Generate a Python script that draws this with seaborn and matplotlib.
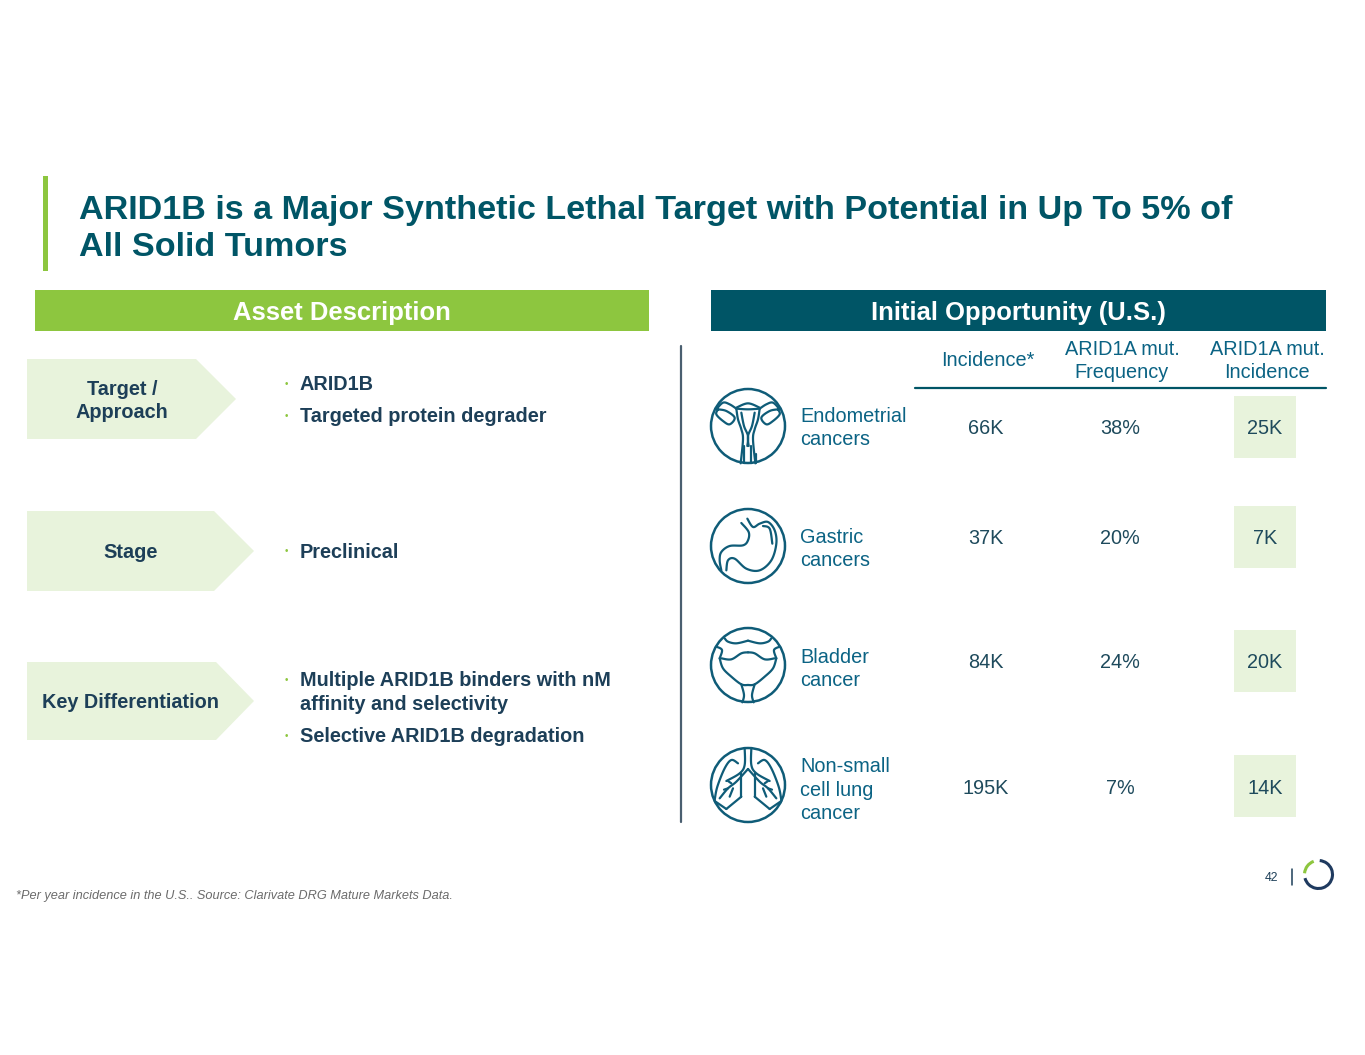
import numpy as np
import pandas as pd
import matplotlib
matplotlib.use('Agg')
import matplotlib.pyplot as plt
import seaborn as sns
from matplotlib.patches import Polygon, Rectangle, Circle, Arc

# Table values
cancers = ['Endometrial\ncancers', 'Gastric\ncancers', 'Bladder\ncancer', 'Non-small\ncell lung\ncancer']
incidence = ['66K', '37K', '84K', '195K']
frequency = ['38%', '20%', '24%', '7%']
mut_incidence = ['25K', '7K', '20K', '14K']
col_heads = ['Incidence*', 'ARID1A mut.\nFrequency', 'ARID1A mut.\nIncidence']

title = 'ARID1B is a Major Synthetic Lethal Target with Potential in Up To 5% of\nAll Solid Tumors'
footnote = '*Per year incidence in the U.S.. Source: Clarivate DRG Mature Markets Data.'

TEAL = '#005566'
GREEN = '#8DC63F'
PALE = '#E8F3DC'
NAVY = '#1D3F58'
BLUE = '#0B6384'
VAL = '#1E4A5C'
ICON = '#0F5C78'

sns.set_theme(style='white')
plt.rcParams['font.family'] = ['Liberation Sans', 'DejaVu Sans']

fig = plt.figure(figsize=(13.65, 10.55), dpi=100)
ax = fig.add_axes([0, 0, 1, 1])
ax.set_xlim(0, 1365)
ax.set_ylim(1055, 0)
ax.axis('off')

# Title and accent bar
ax.add_patch(Rectangle((43, 176), 5, 95, color=GREEN, lw=0))
ax.text(79, 211, title.split('\n')[0], fontsize=24.6, fontweight='bold', color=TEAL, va='center')
ax.text(79, 248, title.split('\n')[1], fontsize=24.6, fontweight='bold', color=TEAL, va='center')

# Section headers
ax.add_patch(Rectangle((35, 290), 614, 41, color=GREEN, lw=0))
ax.add_patch(Rectangle((711, 290), 615, 41, color=TEAL, lw=0))
ax.text(342, 313, 'Asset Description', fontsize=18.45, fontweight='bold', color='white', ha='center', va='center')
ax.text(1018, 313, 'Initial Opportunity (U.S.)', fontsize=18.45, fontweight='bold', color='white', ha='center', va='center')

ax.plot([680.5, 680.5], [346, 822], color='#4A5F70', lw=1.6)


# Left column: chevrons and bullets
def chevron(x0, x1, tip, y0, y1, label, cx):
    ax.add_patch(Polygon([(x0, y0), (x1, y0), (tip, (y0 + y1) / 2), (x1, y1), (x0, y1)], color=PALE, lw=0))
    ax.text(cx, (y0 + y1) / 2 + 2, label, fontsize=14.3, fontweight='bold', color=NAVY,
            ha='center', va='center', linespacing=1.32)


def bullet(y, text):
    ax.text(286, y, '•', fontsize=7, color=GREEN, ha='center', va='center')
    lines = text.split('\n')
    for i, line in enumerate(lines):
        ax.text(299.5, y + 1 + i * 24, line, fontsize=14.3, fontweight='bold', color=NAVY, va='center')


chevron(27, 196, 236, 359, 439, 'Target /\nApproach', 122)
chevron(27, 214, 254, 511, 591, 'Stage', 131)
chevron(27, 216, 254, 662, 740, 'Key Differentiation', 131)
bullet(384, 'ARID1B')
bullet(416, 'Targeted protein degrader')
bullet(551.5, 'Preclinical')
bullet(680, 'Multiple ARID1B binders with nM\naffinity and selectivity')
bullet(736, 'Selective ARID1B degradation')

# Right column: table
col_x = [986, 1120, 1265]
row_y = [427, 537, 661, 786]
label_y = [426, 547, 667, 788]
ax.plot([915, 1326], [388, 388], color=TEAL, lw=1.6)
ax.text(988, 361, col_heads[0], fontsize=14.3, color=BLUE, ha='center', va='center')
ax.text(1122, 361, col_heads[1], fontsize=14.3, color=BLUE, ha='center', va='center', linespacing=1.32)
ax.text(1267, 361, col_heads[2], fontsize=14.3, color=BLUE, ha='center', va='center', linespacing=1.32)

df = pd.DataFrame({'cancer': cancers, 'x': col_x[2], 'y': row_y})
sns.scatterplot(data=df, x='x', y='y', marker='s', s=1990, color=PALE, linewidth=0, ax=ax, legend=False, zorder=1)
ax.set_xlim(0, 1365)
ax.set_ylim(1055, 0)
ax.set_xlabel('')
ax.set_ylabel('')

for i in range(4):
    ax.text(800, label_y[i] + 2, cancers[i], fontsize=14.3, color=BLUE, va='center', linespacing=1.32)
    ax.text(col_x[0], row_y[i] + 2, incidence[i], fontsize=14.3, color=VAL, ha='center', va='center')
    ax.text(col_x[1], row_y[i] + 2, frequency[i], fontsize=14.3, color=VAL, ha='center', va='center')
    ax.text(col_x[2], row_y[i] + 2, mut_incidence[i], fontsize=14.3, color=VAL, ha='center', va='center', zorder=3)


# Icons, outlines in 3x pixels around the circle centre
def smooth(pts, n=8):
    pts = np.array(pts, float)
    p = np.vstack([pts[0], pts, pts[-1]])
    out = []
    for i in range(1, len(p) - 2):
        for t in np.linspace(0, 1, n, endpoint=False):
            out.append(0.5 * (2 * p[i] + (p[i + 1] - p[i - 1]) * t
                              + (2 * p[i - 1] - 5 * p[i] + 4 * p[i + 1] - p[i + 2]) * t ** 2
                              + (3 * p[i] - p[i - 1] - 3 * p[i + 1] + p[i + 2]) * t ** 3))
    out.append(pts[-1])
    return np.array(out)


def icon(cx, cy, lines, mirror=()):
    ax.add_patch(Circle((cx, cy), 37, fill=False, ec=ICON, lw=1.8))
    for pts in lines:
        s = smooth(pts) / 3
        ax.plot(cx + s[:, 0], cy + s[:, 1], color=ICON, lw=1.6, solid_capstyle='round')
    for pts in mirror:
        s = smooth(pts) / 3
        ax.plot(cx + s[:, 0], cy + s[:, 1], color=ICON, lw=1.6, solid_capstyle='round')
        ax.plot(cx - s[:, 0], cy + s[:, 1], color=ICON, lw=1.6, solid_capstyle='round')


uterus_mid = [[(-35, -55), (0, -68), (35, -55)], [(-35, -52), (0, -50), (35, -52)],
              [(-12, 60), (-12, 112)], [(10, 60), (10, 112)], [(25, 85), (25, 112)]]
uterus_side = [
    [(-35, -52), (-30, -20), (-20, 10), (-15, 40), (-22, 112)],
    [(-20, -40), (-12, 0), (0, 30), (-2, 60)],
    [(-95, -50), (-75, -70), (-55, -65), (-35, -52)],
    [(-90, -50), (-65, -45), (-40, -25), (-55, -5), (-75, -15), (-95, -35), (-90, -50)],
]
stomach = [
    [(-20, -69), (2, -42), (0, -17), (-15, -2), (-55, 0), (-80, 18), (-85, 43), (-80, 73)],
    [(-2, -82), (15, -57), (35, -67), (60, -72), (80, -47), (85, -7), (70, 43), (35, 73), (-5, 68), (-40, 38), (-60, 43), (-65, 73)],
    [(45, -60), (65, -52), (73, -7)],
]
bladder_side = [
    [(-70, -80), (-60, -70), (-35, -65), (0, -73)],
    [(-80, -20), (-50, -17), (-20, -35), (0, -38)],
    [(-85, -20), (-75, 10), (-50, 35), (-20, 58), (0, 60)],
    [(-20, 58), (-12, 90), (-17, 112)],
    [(-95, -55), (-78, -45), (-85, -20)],
]
lung_side = [
    [(-10, -110), (-10, -60), (-25, -35), (-65, -12)],
    [(0, -48), (-35, -10), (-60, 10), (-85, 40)],
    [(-50, -5), (-60, -12)],
    [(-45, 10), (-55, 35)],
    [(-60, 10), (-72, 14)],
    [(-30, -65), (-50, -75), (-70, -50), (-92, 5), (-100, 45)],
    [(-20, -35), (-20, 35)],
    [(-20, 35), (-65, 72)],
    [(-65, 72), (-100, 48)],
]
icon(748, 426, uterus_mid, uterus_side)
icon(748, 546, stomach)
icon(748, 665, [], bladder_side)
icon(748, 785, [], lung_side)

# Footer
ax.text(16, 896, footnote, fontsize=9.2, style='italic', color='#6B6B6B', va='center')
ax.text(1271.5, 878, '42', fontsize=8.8, color=NAVY, ha='center', va='center')
ax.plot([1291.5, 1291.5], [869, 885], color=NAVY, lw=1.1)
ax.add_patch(Arc((1318.5, 874.5), 28, 28, theta1=-85, theta2=165, color='#1F3A5F', lw=2.2))
ax.add_patch(Arc((1318.5, 874.5), 28, 28, theta1=185, theta2=250, color=GREEN, lw=2.2))

fig.savefig('out.png', dpi=100)
